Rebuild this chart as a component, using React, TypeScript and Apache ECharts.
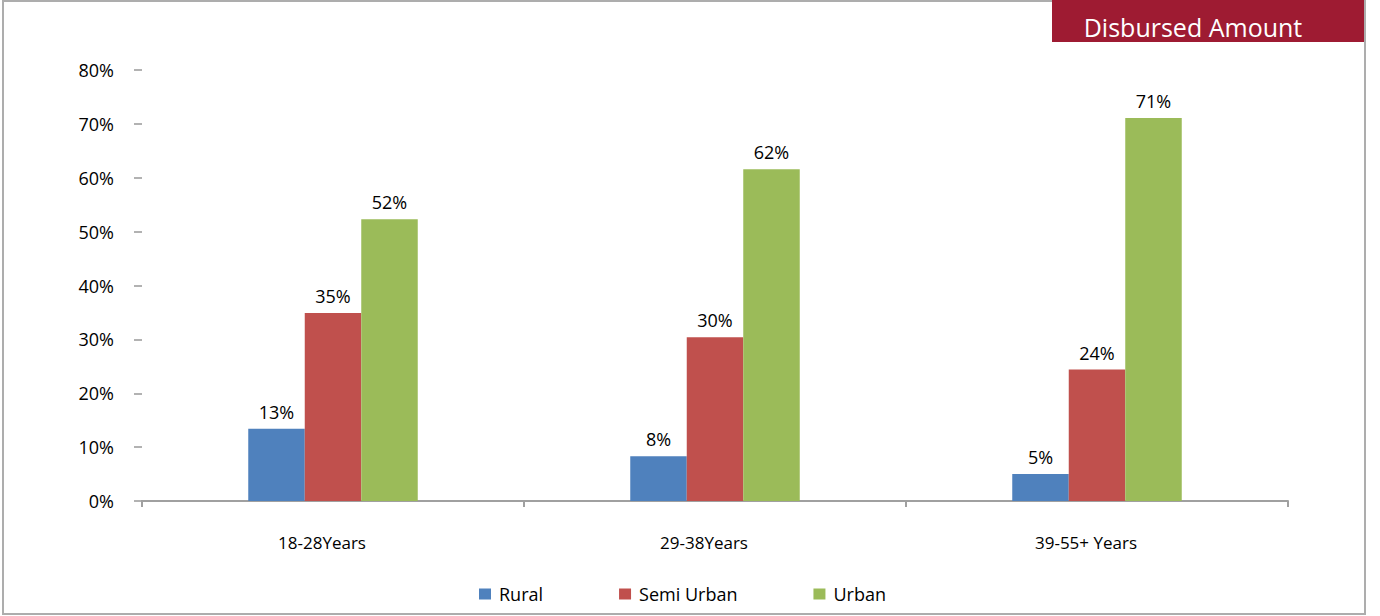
import React, { useEffect, useRef } from "react";
import * as echarts from "echarts";

const categories = ["18-28Years", "29-38Years", "39-55+ Years"];
const rural = [13.4, 8.3, 5.0];
const semiUrban = [34.9, 30.4, 24.4];
const urban = [52.3, 61.6, 71.1];
const yTicks = [0, 10, 20, 30, 40, 50, 60, 70, 80];
const seriesNames = ["Rural", "Semi Urban", "Urban"];
const colors = ["#4F81BD", "#C0504D", "#9BBB59"];
const badge = "Disbursed Amount";

const FONT = "'Open Sans', sans-serif";

export default function App() {
  const ref = useRef<HTMLDivElement>(null);
  useEffect(() => {
    document.body.style.margin = "0";
    const chart = echarts.init(ref.current!, undefined, { renderer: "svg" });
    const values = [rural, semiUrban, urban];
    chart.setOption({
      animation: false,
      backgroundColor: "#ffffff",
      textStyle: { fontFamily: FONT },
      grid: { left: 142, right: 92, top: 70, bottom: 115, containLabel: false },
      legend: {
        left: 474,
        top: 580,
        itemWidth: 12,
        itemHeight: 11,
        itemGap: 76,
        icon: "rect",
        data: seriesNames,
        textStyle: { fontFamily: FONT, fontSize: 18, color: "#000", padding: [2, 0, 0, 3] },
      },
      xAxis: {
        type: "category",
        data: categories,
        axisLine: { show: true, lineStyle: { color: "#A0A0A0", width: 2 } },
        axisTick: { show: true, length: 6, lineStyle: { color: "#A0A0A0", width: 2 } },
        axisLabel: { margin: 33, fontFamily: FONT, fontSize: 17, color: "#000", padding: [0, 22, 0, 0] },
        splitLine: { show: false },
      },
      yAxis: {
        type: "value",
        min: yTicks[0],
        max: yTicks[yTicks.length - 1],
        interval: 10,
        axisLine: { show: false },
        axisTick: { show: true, length: 8, lineStyle: { color: "#999", width: 1.5 } },
        axisLabel: { margin: 28, fontFamily: FONT, fontSize: 18, color: "#000", formatter: (v: number) => v + "%" },
        splitLine: { show: false },
      },
      series: seriesNames.map((name, i) => ({
        name,
        type: "bar",
        data: values[i],
        barWidth: 56.5,
        barGap: "0%",
        itemStyle: { color: colors[i] },
        label: {
          show: true,
          position: "top",
          distance: 8,
          fontFamily: FONT,
          fontSize: 18,
          color: "#000",
          formatter: (p: any) => Math.round(p.value) + "%",
        },
      })),
      graphic: [
        {
          type: "rect",
          shape: { x: 3, y: 1, width: 1362, height: 613 },
          style: { fill: "none", stroke: "#ADADAD", lineWidth: 2 },
          silent: true,
        },
        {
          type: "rect",
          shape: { x: 1052, y: 0, width: 312, height: 42 },
          style: { fill: "#9E1B32" },
          silent: true,
        },
        {
          type: "text",
          x: 1193,
          y: 27,
          style: {
            text: badge,
            fill: "#ffffff",
            font: `25px ${FONT}`,
            textAlign: "center",
            textVerticalAlign: "middle",
          },
          silent: true,
        },
      ],
    });
    return () => chart.dispose();
  }, []);
  return (
    <div
      ref={ref}
      style={{ position: "fixed", left: 0, top: 0, width: 1380, height: 616 }}
    />
  );
}
